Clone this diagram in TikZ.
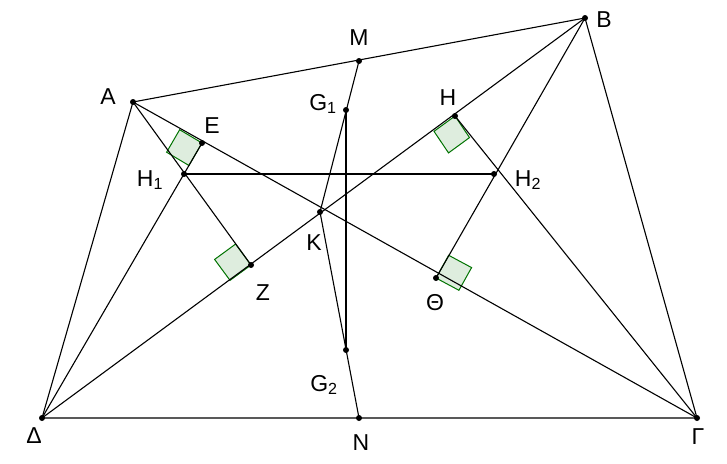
\documentclass[tikz,border=0pt]{standalone}
\usepackage{fontspec}
\setmainfont{Liberation Sans}
\usetikzlibrary{calc}
\newcommand{\rmark}[3]{%
  \coordinate (ra) at ($(#1)!26pt!(#2)$);
  \coordinate (rb) at ($(#1)!26pt!(#3)$);
  \draw[rm] (#1) -- (ra) -- ($(ra)+(rb)-(#1)$) -- (rb) -- cycle;}
\begin{document}
\begin{tikzpicture}[x=1pt,y=-1pt,
  ln/.style={line width=1.1pt},
  thick2/.style={line width=1.6pt},
  rm/.style={draw=green!45!black,fill=green!30!gray!20,line width=1pt},
  dot/.style={circle,fill=black,inner sep=0pt,minimum size=6pt},
  lab/.style={font=\fontsize{23}{25}\selectfont}]
\useasboundingbox (0,0) rectangle (727,463);
\coordinate (A) at (133,102);
\coordinate (B) at (585,18);
\coordinate (G) at (697,418);
\coordinate (D) at (42,418);
\coordinate (M) at (359,61);
\coordinate (N) at (359,418);
\coordinate (K) at (320,212);
\coordinate (G1) at (346,110);
\coordinate (G2) at (346,350);
\coordinate (E) at (202,143);
\coordinate (H1) at (184,174);
\coordinate (H) at (455,116);
\coordinate (H2) at (494,174);
\coordinate (Z) at (251,265);
\coordinate (T) at (436,278);
\rmark{E}{A}{H1}
\rmark{Z}{D}{H1}
\rmark{H}{D}{H2}
\rmark{T}{H2}{G}
\draw[ln] (A) -- (B) -- (G) -- (D) -- cycle;
\draw[ln] (A) -- (G);
\draw[ln] (B) -- (D);
\draw[ln] (M) -- (K) -- (N);
\draw[thick2] (G1) -- (G2);
\draw[thick2] (H1) -- (H2);
\draw[ln] (D) -- (E);
\draw[ln] (A) -- (Z);
\draw[ln] (G) -- (H);
\draw[ln] (B) -- (T);
\foreach \p in {A,B,G,D,M,N,K,G1,G2,E,H1,H,H2,Z,T} \node[dot] (d\p) at (\p) {};
\node[lab] (lA) at (108,97) {A};
\node[lab] (lB) at (604,20) {B};
\node[lab] (lG) at (698,437) {Γ};
\node[lab] (lD) at (34,436) {Δ};
\node[lab] (lM) at (359,38) {M};
\node[lab] (lN) at (361,443) {N};
\node[lab] (lK) at (314,243) {K};
\node[lab] (lG1) at (323,104) {G\textsubscript{1}};
\node[lab] (lG2) at (324,385) {G\textsubscript{2}};
\node[lab] (lE) at (212,126) {E};
\node[lab] (lH1) at (150,180) {H\textsubscript{1}};
\node[lab] (lH) at (448,98) {H};
\node[lab] (lH2) at (528,180) {H\textsubscript{2}};
\node[lab] (lZ) at (263,293) {Z};
\node[lab] (lT) at (435,303) {Θ};
\end{tikzpicture}
\end{document}
